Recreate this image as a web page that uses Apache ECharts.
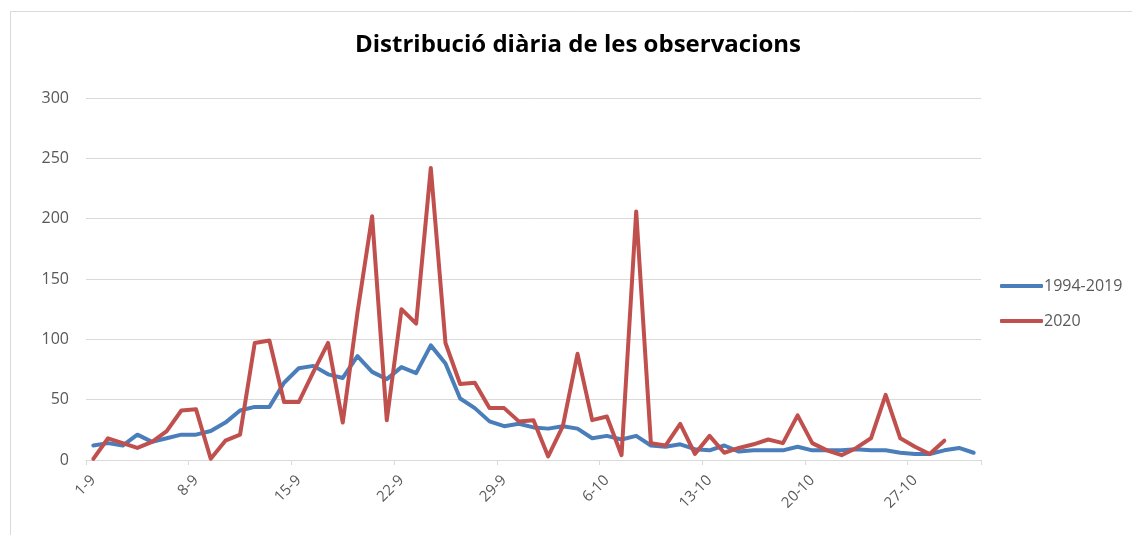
<!DOCTYPE html>
<html>
<head>
<meta charset="utf-8">
<script src="https://cdn.jsdelivr.net/npm/echarts@6/dist/echarts.min.js"></script>
<style>html,body{margin:0;padding:0;background:#fff}#c{width:1132px;height:535px}</style>
</head>
<body>
<div id="c"></div>
<script>
const categories = (function(){
  const out = [];
  for (let d = 1; d <= 30; d++) out.push(d + '-9');
  for (let d = 1; d <= 31; d++) out.push(d + '-10');
  return out;
})();
const series1994_2019 = [12,14,12,21,15,18,21,21,24,31,41,44,44,64,76,78,71,68,86,73,67,77,72,95,80,51,43,32,28,30,27,26,28,26,18,20,17,20,12,11,13,9,8,12,7,8,8,8,11,8,8,8,9,8,8,6,5,5,8,10,6];
const series2020 = [1,18,14,10,15,24,41,42,1,16,21,97,99,48,48,73,97,31,122,202,33,125,113,242,97,63,64,43,43,32,33,3,28,88,33,36,4,206,14,12,30,5,20,6,10,13,17,14,37,14,8,4,10,18,54,18,11,5,16];
const yTicks = [0,50,100,150,200,250,300];

const chart = echarts.init(document.getElementById('c'), null, {renderer:'canvas'});
const gray = '#595959';
const font = "'Open Sans', 'Noto Sans', sans-serif";
chart.setOption({
  animation: false,
  backgroundColor: '#fff',
  title: {
    text: 'Distribució diària de les observacions',
    left: 350, top: 28,
    textStyle: {fontFamily: font, fontWeight: 'bold', fontSize: 24, color: '#000'}
  },
  graphic: [{
    type: 'rect', left: 8, top: 9, shape: {width: 1200, height: 600},
    style: {fill: 'none', stroke: '#d9d9d9', lineWidth: 1}, silent: true, z: -1
  }],
  legend: {
    orient: 'vertical', left: 995, top: 272, itemWidth: 43, itemHeight: 4, itemGap: 17,
    icon: 'roundRect',
    textStyle: {fontFamily: font, fontSize: 16, color: gray, lineHeight: 18, padding: [0,0,0,-4]},
    data: ['1994-2019', '2020']
  },
  grid: {left: 86, right: 151, top: 98, bottom: 75, containLabel: false},
  xAxis: {
    type: 'category', data: categories, boundaryGap: true,
    axisLine: {lineStyle: {color: '#d9d9d9', width: 1}},
    axisTick: {show: true, interval: 6, length: 5, lineStyle: {color: '#d9d9d9'}},
    axisLabel: {interval: 6, rotate: 45, color: gray, fontFamily: font, fontSize: 15, margin: 18}
  },
  yAxis: {
    type: 'value', min: yTicks[0], max: yTicks[yTicks.length-1], interval: 50,
    axisLine: {show: false}, axisTick: {show: false},
    axisLabel: {color: gray, fontFamily: font, fontSize: 16, margin: 17},
    splitLine: {lineStyle: {color: '#d9d9d9', width: 1}}
  },
  series: [
    {name: '1994-2019', type: 'line', data: series1994_2019, showSymbol: false, symbol: 'none',
     lineStyle: {color: '#4a7ebb', width: 4, cap: 'round', join: 'round'}, itemStyle: {color: '#4a7ebb'}},
    {name: '2020', type: 'line', data: series2020, showSymbol: false, symbol: 'none',
     lineStyle: {color: '#c0504d', width: 4, cap: 'round', join: 'round'}, itemStyle: {color: '#c0504d'}}
  ]
});
</script>
</body>
</html>
